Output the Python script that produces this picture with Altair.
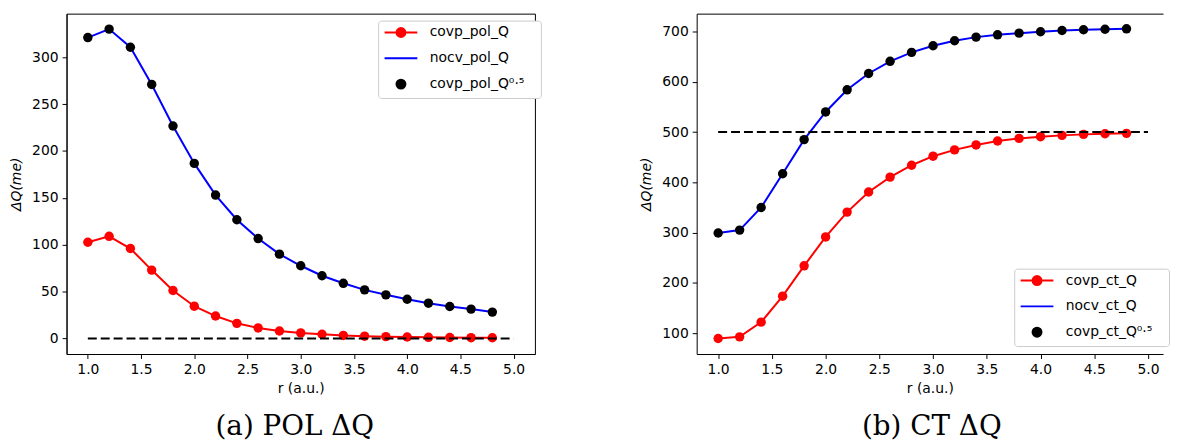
import altair as alt
import pandas as pd

# ---------------- data ----------------
r = [1.0, 1.2, 1.4, 1.6, 1.8, 2.0, 2.2, 2.4, 2.6, 2.8,
     3.0, 3.2, 3.4, 3.6, 3.8, 4.0, 4.2, 4.4, 4.6, 4.8]

pol_covp = [102.7, 109.0, 96.0, 73.0, 51.2, 34.5, 24.0, 16.2, 11.3, 8.0,
            6.0, 4.6, 3.3, 2.5, 2.0, 1.6, 1.3, 1.1, 0.9, 0.8]
pol_nocv = [321.0, 330.0, 310.7, 271.0, 226.7, 186.8, 153.0, 126.7, 106.6, 90.0,
            77.6, 67.0, 58.9, 51.9, 46.6, 41.9, 37.7, 34.2, 31.4, 28.2]
pol_covp_half = [321.0, 330.0, 310.7, 271.0, 226.7, 186.8, 153.0, 126.7, 106.6, 90.0,
                 77.6, 67.0, 58.9, 51.9, 46.6, 41.9, 37.7, 34.2, 31.4, 28.2]

ct_covp = [89.5, 92.7, 122.0, 173.6, 234.0, 291.4, 340.8, 380.8, 410.4, 434.0,
           452.0, 464.5, 474.4, 482.3, 487.4, 490.8, 493.4, 495.4, 496.7, 497.4]
ct_nocv = [299.3, 305.0, 350.0, 417.0, 485.0, 540.0, 584.0, 616.5, 640.7, 658.5,
           671.7, 681.6, 688.8, 693.4, 696.7, 699.4, 702.0, 703.4, 704.5, 705.3]
ct_covp_half = [299.3, 305.0, 350.0, 417.0, 485.0, 540.0, 584.0, 616.5, 640.7, 658.5,
                671.7, 681.6, 688.8, 693.4, 696.7, 699.4, 702.0, 703.4, 704.5, 705.3]

ref_x = [1.0, 5.0]
pol_ref = 0
ct_ref = 500

x_ticks = [1.0, 1.5, 2.0, 2.5, 3.0, 3.5, 4.0, 4.5, 5.0]
pol_y_ticks = [0, 50, 100, 150, 200, 250, 300]
ct_y_ticks = [100, 200, 300, 400, 500, 600, 700]

pol_labels = ["covp_pol_Q", "nocv_pol_Q", "covp_pol_Q⁰·⁵"]
ct_labels = ["covp_ct_Q", "nocv_ct_Q", "covp_ct_Q⁰·⁵"]

captions = ["(a) POL ΔQ", "(b) CT ΔQ"]
x_title = "r (a.u.)"
y_title = "ΔQ(me)"

colors = ["#ff0000", "#0000ff", "#000000"]
# legend glyphs: line with dot, plain line, dot
glyphs = [
    "M-2.75,0H2.75M-0.75,0a0.75,0.75 0 1,0 1.5,0a0.75,0.75 0 1,0 -1.5,0",
    "M-2.75,0H2.75",
    "M-0.75,0a0.75,0.75 0 1,0 1.5,0a0.75,0.75 0 1,0 -1.5,0",
]

FONT = "DejaVu Sans"
FS = 14

AX = dict(grid=False, domain=True, domainColor="black", domainWidth=1,
          ticks=True, tickColor="black", tickSize=4.5, tickWidth=1,
          labelFont=FONT, labelFontSize=FS, labelColor="black", labelPadding=4,
          titleFont=FONT, titleFontSize=FS, titleColor="black",
          titleFontWeight="normal")


def panel(covp, nocv, half, ref, labels, ydom, yticks, caption, width,
          xdom, legend_kw, frame, cap_dx):
    xsc = alt.Scale(domain=xdom, nice=False, zero=False)
    ysc = alt.Scale(domain=ydom, nice=False, zero=False)
    xax = alt.Axis(values=x_ticks, format=".1f", title=x_title,
                   titlePadding=5, **AX)
    yax = alt.Axis(values=yticks, format="d", title=y_title,
                   titlePadding=8, titleFontStyle="italic", **AX)
    X = alt.X("r:Q", scale=xsc, axis=xax)
    Y = alt.Y("v:Q", scale=ysc, axis=yax)

    if frame:
        Xn = X
        Xd = X
    else:
        Xn = alt.X("r:Q", scale=xsc, axis=None)
        # top border drawn as a bare top axis (no right border: cropped panel)
        Xd = alt.X("r:Q", scale=xsc, axis=alt.Axis(
            orient="top", labels=False, ticks=False, title=None, grid=False,
            domain=True, domainColor="black", domainWidth=1))

    d_covp = pd.DataFrame({"r": r, "v": covp})
    d_nocv = pd.DataFrame({"r": r, "v": nocv})
    d_half = pd.DataFrame({"r": r, "v": half})
    d_ref = pd.DataFrame({"r": ref_x, "v": [ref, ref]})

    red_line = alt.Chart(d_covp).mark_line(color=colors[0], strokeWidth=2).encode(x=X, y=Y)
    red_pts = alt.Chart(d_covp).mark_point(filled=True, color=colors[0], size=90, opacity=1).encode(x=Xn, y=Y)
    blue_line = alt.Chart(d_nocv).mark_line(color=colors[1], strokeWidth=2).encode(x=Xn, y=Y)
    black_pts = alt.Chart(d_half).mark_point(filled=True, color=colors[2], size=90, opacity=1).encode(x=Xn, y=Y)
    dashed = alt.Chart(d_ref).mark_line(color="black", strokeWidth=2, strokeDash=[9, 4]).encode(x=Xd, y=Y)

    leg = alt.Legend(
        title=".", titleOrient="right", titleColor="white", titleFontSize=FS,
        titlePadding=8,
        fillColor="white", strokeColor="#cccccc", cornerRadius=3, padding=5,
        labelFont=FONT, labelFontSize=FS, labelColor="black",
        symbolSize=144, symbolStrokeWidth=2, symbolOffset=11, labelOffset=22,
        rowPadding=10, orient="none", **legend_kw,
    )
    cscale = alt.Scale(domain=labels, range=colors)
    sscale = alt.Scale(domain=labels, range=glyphs)
    d_leg = pd.DataFrame({"series": labels, "r": [1.0] * 3, "v": [ref] * 3})
    legend_layer = alt.Chart(d_leg).transform_filter("false").mark_point(
        filled=True, opacity=1
    ).encode(
        x=Xn, y=Y,
        fill=alt.Fill("series:N", scale=cscale, legend=leg),
        stroke=alt.Stroke("series:N", scale=cscale, legend=leg),
        shape=alt.Shape("series:N", scale=sscale, legend=leg),
    )

    layers = [red_line, red_pts, blue_line, black_pts, dashed, legend_layer]
    ch = alt.layer(*layers).properties(
        width=width, height=343,
        title=alt.TitleParams(
            text=caption, orient="bottom", anchor="middle", frame="group",
            font="DejaVu Serif", fontSize=28, fontWeight="normal",
            color="black", offset=18, dx=cap_dx,
        ),
    )
    if not frame:
        ch = ch.resolve_axis(x="independent").properties(
            view=alt.ViewBackground(stroke=None))
    return ch


left = panel(pol_covp, pol_nocv, pol_covp_half, pol_ref, pol_labels,
             [-16.5, 346.5], pol_y_ticks, captions[0], 472, [0.8, 5.2],
             dict(legendX=314, legendY=7), True, -6)
right = panel(ct_covp, ct_nocv, ct_covp_half, ct_ref, ct_labels,
              [58.6, 735.5], ct_y_ticks, captions[1], 470, [0.8, 5.14],
              dict(legendX=320, legendY=257), False, 2)

chart = alt.hconcat(left, right, spacing=98).resolve_scale(
    fill="independent", stroke="independent", shape="independent",
    x="independent", y="independent",
).resolve_legend(
    fill="independent", stroke="independent", shape="independent"
).configure(
    padding={"left": 1, "top": 3, "right": 0, "bottom": 0},
    background="white",
).configure_view(
    stroke="black", strokeWidth=1,
)

chart.save("out.html", embed_options={"renderer": "svg", "actions": False})
